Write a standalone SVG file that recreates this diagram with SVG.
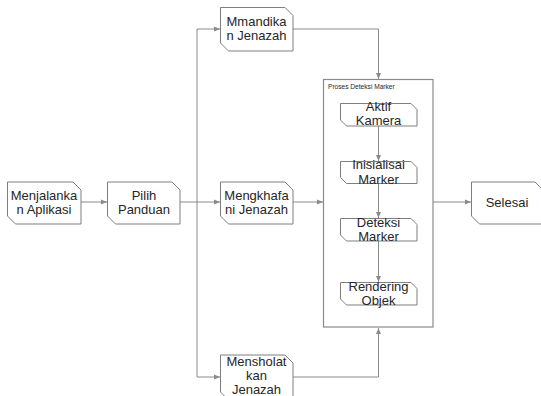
<svg xmlns="http://www.w3.org/2000/svg" width="541" height="396" viewBox="0 0 541 396">
<defs>
<marker id="arr" markerWidth="6" markerHeight="6" refX="6" refY="3" orient="auto" markerUnits="userSpaceOnUse">
<path d="M0,0.5 L6,3 L0,5.5 z" fill="#8a8a8a"/>
</marker>
</defs>
<style>
.box{fill:#fff;stroke:#7f7f7f;stroke-width:1}
.t{font-family:"Liberation Sans",Arial,sans-serif;font-size:13px;fill:#262626;text-anchor:middle}
.lbl{font-family:"Liberation Sans",Arial,sans-serif;font-size:6.6px;fill:#262626}
.c{fill:none;stroke:#8a8a8a;stroke-width:1}
.frame{fill:#fff;stroke:#8a8a8a;stroke-width:1.2}
</style>
<rect width="541" height="396" fill="#fff"/>

<g id="proses">
<rect class="frame" x="323.5" y="79.5" width="109.5" height="247.5"/>
<text class="lbl" x="328" y="89">Proses Deteksi Marker</text>
</g>

<g id="connectors">
<line class="c" x1="81" y1="202" x2="107" y2="202" marker-end="url(#arr)"/>
<line class="c" x1="180" y1="202" x2="197" y2="202" stroke-width="1.8"/>
<polyline class="c" points="197,29 197,377"/>
<line class="c" x1="197" y1="29" x2="220" y2="29" marker-end="url(#arr)"/>
<line class="c" x1="197" y1="202" x2="220" y2="202" marker-end="url(#arr)"/>
<line class="c" x1="197" y1="377" x2="220" y2="377" marker-end="url(#arr)"/>
<polyline class="c" points="293,29 378.5,29 378.5,79" marker-end="url(#arr)"/>
<line class="c" x1="293" y1="202" x2="323" y2="202" marker-end="url(#arr)"/>
<polyline class="c" points="293,377 378.5,377 378.5,328" marker-end="url(#arr)"/>
<line class="c" x1="433" y1="202" x2="471" y2="202" marker-end="url(#arr)"/>
<line class="c" x1="378.5" y1="126" x2="378.5" y2="161" marker-end="url(#arr)"/>
<line class="c" x1="378.5" y1="183" x2="378.5" y2="218" marker-end="url(#arr)"/>
<line class="c" x1="378.5" y1="241" x2="378.5" y2="282" marker-end="url(#arr)"/>
</g>

<g id="menjalankan">
<path class="box" d="M7.5,182 H73 L81,190 V224 H15.5 L7.5,216 Z"/>
<text class="t" x="44" y="199.5">Menjalanka</text>
<text class="t" x="44" y="214">n Aplikasi</text>
</g>

<g id="pilih">
<path class="box" d="M107.5,182 H172 L180,190 V224 H115.5 L107.5,216 Z"/>
<text class="t" x="144" y="199.5">Pilih</text>
<text class="t" x="144" y="214">Panduan</text>
</g>

<g id="mmandikan">
<path class="box" d="M220.5,7.5 H285 L293,15.5 V51 H228.5 L220.5,43 Z"/>
<text class="t" x="256.5" y="25.5">Mmandika</text>
<text class="t" x="256.5" y="40">n Jenazah</text>
</g>

<g id="mengkhafani">
<path class="box" d="M220.5,182 H285 L293,190 V224 H228.5 L220.5,216 Z"/>
<text class="t" x="256.5" y="199.5">Mengkhafa</text>
<text class="t" x="256.5" y="214">ni Jenazah</text>
</g>

<g id="mensholatkan">
<path class="box" d="M220.5,355 H285 L293,363 V400 H228.5 L220.5,392 Z"/>
<text class="t" x="256.5" y="366">Mensholat</text>
<text class="t" x="256.5" y="380">kan</text>
<text class="t" x="256.5" y="394">Jenazah</text>
</g>

<g id="selesai">
<path class="box" d="M471.5,182 H535 L543,190 V224 H479.5 L471.5,216 Z"/>
<text class="t" x="507" y="206.5">Selesai</text>
</g>

<g id="aktif">
<path class="box" d="M340.5,103.5 H411 L417,109.5 V126 H346.5 L340.5,120 Z"/>
<text class="t" x="378.5" y="111">Aktif</text>
<text class="t" x="378.5" y="125">Kamera</text>
</g>

<g id="inisialisai">
<path class="box" d="M340.5,161.5 H411 L417,167.5 V183.5 H346.5 L340.5,177.5 Z"/>
<text class="t" x="378.5" y="169">Inisialisai</text>
<text class="t" x="378.5" y="183.5">Marker</text>
</g>

<g id="deteksi">
<path class="box" d="M340.5,218.5 H411 L417,224.5 V241 H346.5 L340.5,235 Z"/>
<text class="t" x="378.5" y="226.5">Deteksi</text>
<text class="t" x="378.5" y="241">Marker</text>
</g>

<g id="rendering">
<path class="box" d="M340.5,282.5 H411 L417,288.5 V305 H346.5 L340.5,299 Z"/>
<text class="t" x="378.5" y="290.5">Rendering</text>
<text class="t" x="378.5" y="305">Objek</text>
</g>
</svg>
